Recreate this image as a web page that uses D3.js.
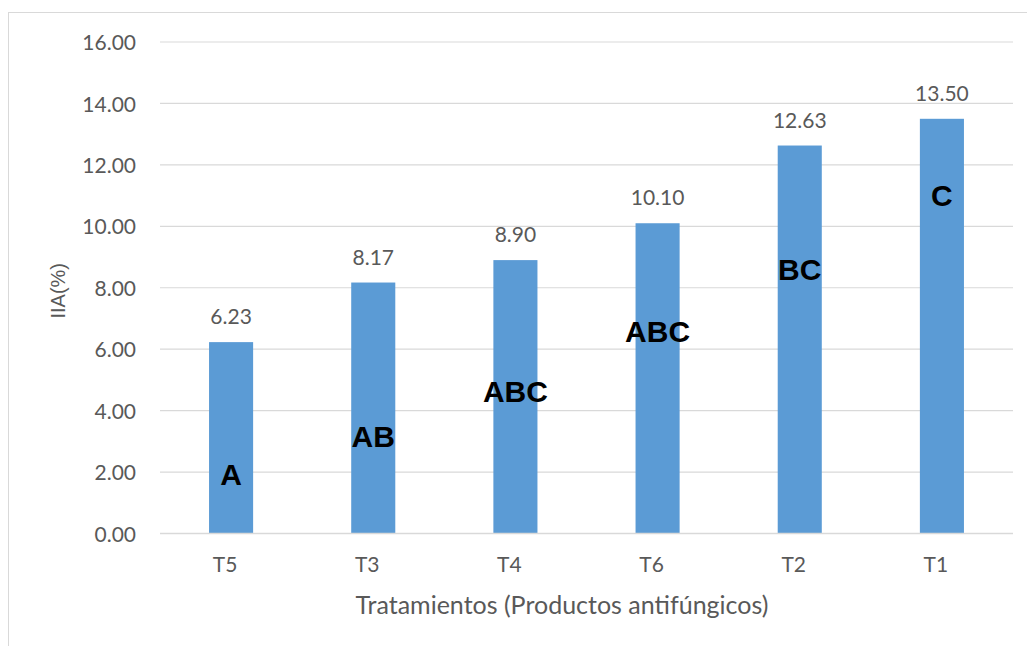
<!DOCTYPE html>
<html>
<head>
<meta charset="utf-8">
<script src="https://cdn.jsdelivr.net/npm/d3@7"></script>
<style>
  html, body { margin: 0; padding: 0; background: #ffffff; }
  svg { display: block; }
</style>
</head>
<body>
<svg id="chart" width="1027" height="646"></svg>
<script>
// Treatments in display order and their IIA (%) means
const categories = ["T5", "T3", "T4", "T6", "T2", "T1"];
const values = [6.23, 8.17, 8.90, 10.10, 12.63, 13.50];
// Significance groups and the value height at which each letter sits
const groups = ["A", "AB", "ABC", "ABC", "BC", "C"];
const groupAt = [1.58, 2.83, 4.28, 6.24, 8.25, 10.66];
// Y axis ticks
const yTicks = [0, 2, 4, 6, 8, 10, 12, 14, 16];

const svg = d3.select("#chart");
const W = 1027, H = 646;
const plot = { left: 160, right: 1013, top: 42, bottom: 533.5 };
const textFont = "Lato, 'Open Sans', sans-serif";
const textColor = "#595959";

// Chart frame
svg.append("rect")
  .attr("x", 8.5).attr("y", 12.5)
  .attr("width", W + 10).attr("height", H + 10)
  .attr("fill", "none")
  .attr("stroke", "#d9d9d9")
  .attr("stroke-width", 1);

const x = d3.scaleBand()
  .domain(categories)
  .range([plot.left, plot.right])
  .paddingInner(0.69)
  .paddingOuter(0.345);

const y = d3.scaleLinear()
  .domain([0, 16])
  .range([plot.bottom, plot.top]);

// Horizontal gridlines
svg.append("g")
  .selectAll("line")
  .data(yTicks.filter(d => d > 0))
  .join("line")
  .attr("x1", plot.left).attr("x2", plot.right)
  .attr("y1", d => y(d)).attr("y2", d => y(d))
  .attr("stroke", "#d9d9d9")
  .attr("stroke-width", 1.2);

// Y axis labels
const yAxis = svg.append("g")
  .attr("transform", `translate(${plot.left - 24},0)`)
  .call(d3.axisLeft(y).tickValues(yTicks).tickFormat(d3.format(".2f")).tickSize(0).tickPadding(0));
yAxis.select(".domain").remove();
yAxis.selectAll("text")
  .attr("font-family", textFont)
  .attr("font-size", 21)
  .attr("fill", textColor)
  .attr("dy", "0.36em");

// Bars
svg.append("g")
  .selectAll("rect")
  .data(values)
  .join("rect")
  .attr("x", (d, i) => x(categories[i]))
  .attr("width", x.bandwidth())
  .attr("y", d => y(d))
  .attr("height", d => y(0) - y(d))
  .attr("fill", "#5b9bd5");

// Baseline axis
svg.append("line")
  .attr("x1", plot.left).attr("x2", plot.right)
  .attr("y1", y(0)).attr("y2", y(0))
  .attr("stroke", "#d9d9d9")
  .attr("stroke-width", 1.5);

// Category labels
const xAxis = svg.append("g")
  .attr("transform", `translate(-6,${y(0)})`)
  .call(d3.axisBottom(x).tickSize(0).tickPadding(0));
xAxis.select(".domain").remove();
xAxis.selectAll("text")
  .attr("font-family", textFont)
  .attr("font-size", 21)
  .attr("fill", textColor)
  .attr("dy", 0)
  .attr("y", 38);

// Value labels above bars
svg.append("g")
  .selectAll("text")
  .data(values)
  .join("text")
  .attr("x", (d, i) => x(categories[i]) + x.bandwidth() / 2)
  .attr("y", d => y(d) - 18)
  .attr("text-anchor", "middle")
  .attr("font-family", textFont)
  .attr("font-size", 21)
  .attr("fill", textColor)
  .text(d => d3.format(".2f")(d));

// Significance letters
svg.append("g")
  .selectAll("text")
  .data(groups)
  .join("text")
  .attr("x", (d, i) => x(categories[i]) + x.bandwidth() / 2)
  .attr("y", (d, i) => y(groupAt[i]))
  .attr("text-anchor", "middle")
  .attr("font-family", "'Liberation Sans', Arial, sans-serif")
  .attr("font-weight", "bold")
  .attr("font-size", 30)
  .attr("fill", "#000000")
  .text(d => d);

// Axis titles
svg.append("text")
  .attr("x", 562)
  .attr("y", 614)
  .attr("text-anchor", "middle")
  .attr("font-family", textFont)
  .attr("font-size", 25)
  .attr("fill", textColor)
  .text("Tratamientos (Productos antifúngicos)");

svg.append("text")
  .attr("transform", `translate(65,${(plot.top + plot.bottom) / 2 + 3}) rotate(-90)`)
  .attr("text-anchor", "middle")
  .attr("font-family", "'Liberation Sans', Arial, sans-serif")
  .attr("font-size", 20)
  .attr("fill", textColor)
  .text("IIA(%)");
</script>
</body>
</html>
